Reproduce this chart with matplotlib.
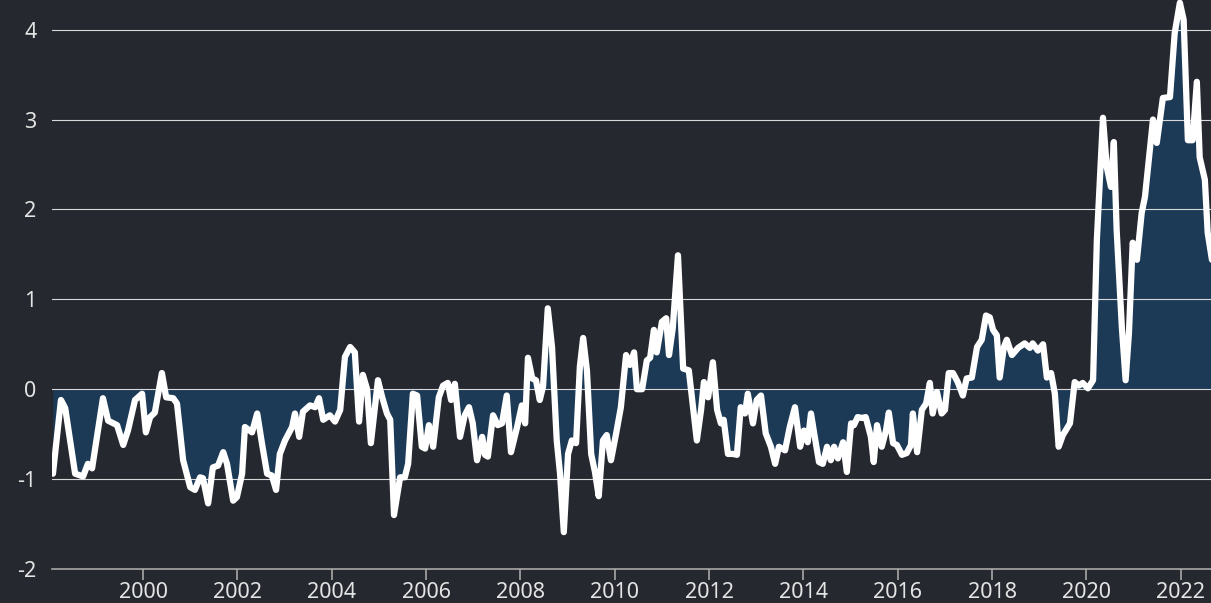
import matplotlib
matplotlib.use('Agg')
import matplotlib.pyplot as plt

# decimal years and values
years = [
    1998.09, 1998.26, 1998.35, 1998.56, 1998.73, 1998.83, 1998.92, 1999.15, 1999.26, 1999.45,
    1999.58, 1999.68, 1999.83, 1999.98, 2000.06, 2000.15, 2000.25, 2000.40, 2000.49, 2000.64,
    2000.72, 2000.85, 2001.00, 2001.10, 2001.21, 2001.27, 2001.38, 2001.48, 2001.59, 2001.70,
    2001.78, 2001.91, 2001.99, 2002.10, 2002.16, 2002.31, 2002.42, 2002.52, 2002.63, 2002.73,
    2002.82, 2002.90, 2003.01, 2003.16, 2003.22, 2003.31, 2003.39, 2003.54, 2003.65, 2003.73,
    2003.82, 2003.96, 2004.07, 2004.18, 2004.28, 2004.39, 2004.49, 2004.58, 2004.66, 2004.75,
    2004.83, 2004.98, 2005.07, 2005.17, 2005.24, 2005.32, 2005.45, 2005.55, 2005.62, 2005.72,
    2005.81, 2005.91, 2005.98, 2006.06, 2006.15, 2006.27, 2006.36, 2006.46, 2006.53, 2006.61,
    2006.72, 2006.82, 2006.91, 2006.99, 2007.08, 2007.19, 2007.25, 2007.31, 2007.42, 2007.52,
    2007.61, 2007.71, 2007.80, 2007.93, 2008.03, 2008.10, 2008.16, 2008.25, 2008.33, 2008.41,
    2008.48, 2008.58, 2008.67, 2008.77, 2008.84, 2008.92, 2009.01, 2009.09, 2009.18, 2009.26,
    2009.33, 2009.41, 2009.50, 2009.58, 2009.66, 2009.75, 2009.83, 2009.92, 2010.03, 2010.13,
    2010.24, 2010.32, 2010.41, 2010.47, 2010.58, 2010.68, 2010.75, 2010.83, 2010.89, 2011.00,
    2011.09, 2011.15, 2011.23, 2011.34, 2011.45, 2011.57, 2011.74, 2011.83, 2011.89, 2011.98,
    2012.08, 2012.17, 2012.25, 2012.31, 2012.40, 2012.51, 2012.59, 2012.67, 2012.76, 2012.82,
    2012.93, 2013.01, 2013.10, 2013.20, 2013.31, 2013.40, 2013.48, 2013.61, 2013.71, 2013.82,
    2013.93, 2014.01, 2014.09, 2014.16, 2014.24, 2014.33, 2014.41, 2014.50, 2014.58, 2014.65,
    2014.73, 2014.84, 2014.92, 2015.01, 2015.07, 2015.15, 2015.24, 2015.32, 2015.43, 2015.49,
    2015.56, 2015.66, 2015.75, 2015.81, 2015.90, 2015.98, 2016.09, 2016.19, 2016.28, 2016.32,
    2016.41, 2016.51, 2016.60, 2016.68, 2016.74, 2016.83, 2016.93, 2017.00, 2017.08, 2017.17,
    2017.27, 2017.38, 2017.46, 2017.57, 2017.68, 2017.78, 2017.87, 2017.95, 2018.02, 2018.10,
    2018.16, 2018.25, 2018.31, 2018.42, 2018.55, 2018.69, 2018.80, 2018.86, 2018.97, 2019.08,
    2019.16, 2019.25, 2019.33, 2019.41, 2019.50, 2019.65, 2019.75, 2019.84, 2019.92, 2020.03,
    2020.14, 2020.22, 2020.35, 2020.43, 2020.52, 2020.58, 2020.64, 2020.75, 2020.83, 2020.90,
    2020.98, 2021.07, 2021.17, 2021.24, 2021.32, 2021.41, 2021.49, 2021.62, 2021.77, 2021.87,
    2021.98, 2022.06, 2022.15, 2022.25, 2022.34, 2022.40, 2022.51, 2022.57, 2022.66,
]
values = [
    -0.94, -0.12, -0.21, -0.94, -0.97, -0.83, -0.88, -0.10, -0.35, -0.40,
    -0.62, -0.46, -0.12, -0.05, -0.48, -0.31, -0.26, 0.18, -0.09, -0.10,
    -0.16, -0.79, -1.09, -1.12, -0.98, -0.99, -1.27, -0.87, -0.85, -0.70,
    -0.83, -1.24, -1.20, -0.94, -0.42, -0.48, -0.27, -0.60, -0.94, -0.96,
    -1.12, -0.72, -0.57, -0.42, -0.27, -0.53, -0.25, -0.18, -0.20, -0.10,
    -0.34, -0.29, -0.36, -0.23, 0.36, 0.47, 0.41, -0.36, 0.16, 0.00,
    -0.60, 0.10, -0.09, -0.27, -0.34, -1.40, -0.98, -0.98, -0.83, -0.05,
    -0.07, -0.64, -0.66, -0.40, -0.64, -0.09, 0.04, 0.07, -0.12, 0.06,
    -0.53, -0.29, -0.20, -0.38, -0.79, -0.53, -0.73, -0.75, -0.29, -0.40,
    -0.38, -0.07, -0.70, -0.42, -0.18, -0.38, 0.35, 0.12, 0.10, -0.12,
    0.03, 0.90, 0.47, -0.57, -0.94, -1.59, -0.72, -0.57, -0.60, 0.25,
    0.57, 0.21, -0.72, -0.92, -1.19, -0.57, -0.51, -0.79, -0.49, -0.20,
    0.38, 0.27, 0.41, 0.00, 0.00, 0.32, 0.35, 0.66, 0.41, 0.75,
    0.79, 0.38, 0.68, 1.49, 0.23, 0.21, -0.57, -0.23, 0.08, -0.09,
    0.30, -0.23, -0.38, -0.34, -0.72, -0.72, -0.73, -0.20, -0.27, -0.05,
    -0.38, -0.12, -0.07, -0.49, -0.64, -0.83, -0.64, -0.68, -0.42, -0.20,
    -0.64, -0.46, -0.59, -0.27, -0.53, -0.81, -0.83, -0.64, -0.79, -0.64,
    -0.77, -0.59, -0.92, -0.38, -0.40, -0.31, -0.32, -0.31, -0.53, -0.81,
    -0.40, -0.64, -0.46, -0.26, -0.60, -0.62, -0.73, -0.71, -0.62, -0.27,
    -0.70, -0.23, -0.16, 0.07, -0.27, -0.03, -0.27, -0.23, 0.18, 0.18,
    0.08, -0.07, 0.12, 0.13, 0.47, 0.55, 0.82, 0.80, 0.66, 0.60,
    0.13, 0.47, 0.55, 0.38, 0.46, 0.51, 0.46, 0.51, 0.43, 0.50,
    0.13, 0.18, -0.05, -0.64, -0.51, -0.38, 0.08, 0.04, 0.07, 0.01,
    0.10, 1.66, 3.02, 2.47, 2.25, 2.75, 1.77, 0.69, 0.10, 0.62,
    1.63, 1.44, 1.96, 2.14, 2.55, 3.00, 2.74, 3.24, 3.25, 3.96,
    4.30, 4.11, 2.77, 2.77, 3.42, 2.58, 2.33, 1.74, 1.44,
]
x_ticks = [2000, 2002, 2004, 2006, 2008, 2010, 2012, 2014, 2016, 2018, 2020, 2022]
y_ticks = [-2, -1, 0, 1, 2, 3, 4]

bg = '#262830'
fill_col = '#1c3a56'
text_col = '#e4e4e4'

fig = plt.figure(figsize=(12.11, 6.03), dpi=100, facecolor=bg)
ax = fig.add_axes([52 / 1211, 34 / 603, 1 - 52 / 1211, 1 - 34 / 603])
ax.set_facecolor(bg)

ax.fill_between(years, values, 0, color=fill_col, linewidth=0, zorder=1)
for yv in y_ticks[1:]:
    ax.axhline(yv, color='#d8d8d8', linewidth=0.8, zorder=2)
ax.plot(years, values, color='white', linewidth=4.5, solid_joinstyle='round',
        solid_capstyle='round', zorder=3)

ax.set_xlim(1998.07, 2022.64)
ax.set_ylim(-2, 4.33)

for side in ['top', 'right', 'left']:
    ax.spines[side].set_visible(False)
ax.spines['bottom'].set_color('#a8a8a8')
ax.spines['bottom'].set_linewidth(1.2)

ax.set_xticks(x_ticks)
ax.set_xticklabels([str(t) for t in x_ticks], fontfamily='Noto Sans', fontsize=15.5, color=text_col)
ax.set_yticks(y_ticks)
ax.set_yticklabels([str(t) for t in y_ticks], fontfamily='Noto Sans', fontsize=15.5, color=text_col)
ax.tick_params(axis='x', length=8, width=1.2, color='#a8a8a8', pad=1)
ax.tick_params(axis='y', length=0, pad=11)

fig.savefig('out.png', dpi=100, facecolor=bg)
